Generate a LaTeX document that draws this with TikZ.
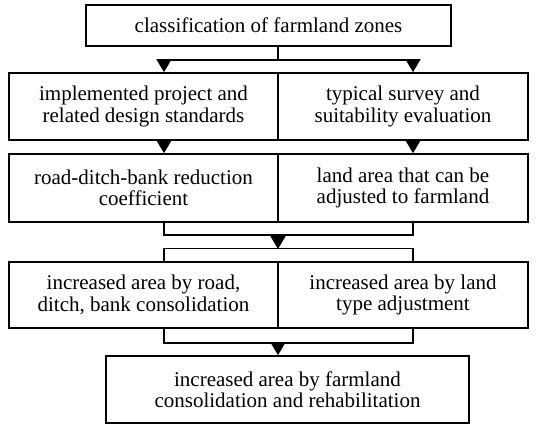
\documentclass[tikz,border=0pt]{standalone}
\usepackage{fontspec}
\setmainfont{Liberation Serif}
\newfontfamily\boxfont{Liberation Serif}
\usetikzlibrary{arrows.meta}
\begin{document}
\begin{tikzpicture}[x=1pt,y=-1pt,
  box/.style={draw=black,line width=1.6pt,rectangle,inner sep=0pt,align=center,
    font=\boxfont\fontsize{21}{21.5}\selectfont},
  conn/.style={line width=1.5pt},
  arr/.style={conn,-{Triangle[width=15pt,length=13pt]}}]
\fill[white] (0,0) rectangle (541,425);
\useasboundingbox (0,0) rectangle (541,425);
% nodes
\node[box,minimum width=365pt,minimum height=41pt] (top) at (268.5,25.5) {classification of farmland zones};
\node[box,minimum width=269pt,minimum height=67pt] (r2l) at (143.5,106.5) {implemented project and\\related design standards};
\node[box,minimum width=250pt,minimum height=67pt] (r2r) at (403,106.5) {typical survey and\\suitability evaluation};
\node[box,minimum width=269pt,minimum height=68pt] (r3l) at (143.5,188) {road-ditch-bank reduction\\coefficient};
\node[box,minimum width=250pt,minimum height=68pt] (r3r) at (403,188) {land area that can be\\adjusted to farmland};
\node[box,minimum width=269pt,minimum height=66pt] (r4l) at (143.5,295) {increased area by road,\\ditch, bank consolidation};
\node[box,minimum width=250pt,minimum height=66pt] (r4r) at (403,295) {increased area by land\\type adjustment};
\node[box,minimum width=363pt,minimum height=67pt] (fin) at (287.5,389.5) {increased area by farmland\\consolidation and rehabilitation};
% junction coordinates
\coordinate (j1) at (278,60);
\coordinate (aL) at (164,60);
\coordinate (aR) at (413,60);
\coordinate (b1L) at (164,235);
\coordinate (b1R) at (413,235);
\coordinate (j2) at (278,235);
\coordinate (b2L) at (164,248.5);
\coordinate (b2R) at (413,248.5);
\coordinate (b3L) at (164,343);
\coordinate (b3R) at (413,343);
\coordinate (j3) at (278,343);
% connectors
\draw[conn] (top.south -| j1) -- (j1);
\draw[conn] (aL) -- (aR);
\draw[arr] (aL) -- (aL |- r2l.north);
\draw[arr] (aR) -- (aR |- r2r.north);
\draw[arr] (aL |- r2l.south) -- (aL |- r3l.north);
\draw[arr] (aR |- r2r.south) -- (aR |- r3r.north);
\draw[conn] (aL |- r3l.south) -- (b1L) -- (b1R) -- (aR |- r3r.south);
\draw[arr] (j2) -- ([yshift=-0.5pt]b2L -| j2);
\draw[conn] (aL |- r4l.north) -- (b2L) -- (b2R) -- (aR |- r4r.north);
\draw[conn] (aL |- r4l.south) -- (b3L) -- (b3R) -- (aR |- r4r.south);
\draw[arr] (j3) -- (j3 |- fin.north);
\end{tikzpicture}
\end{document}
